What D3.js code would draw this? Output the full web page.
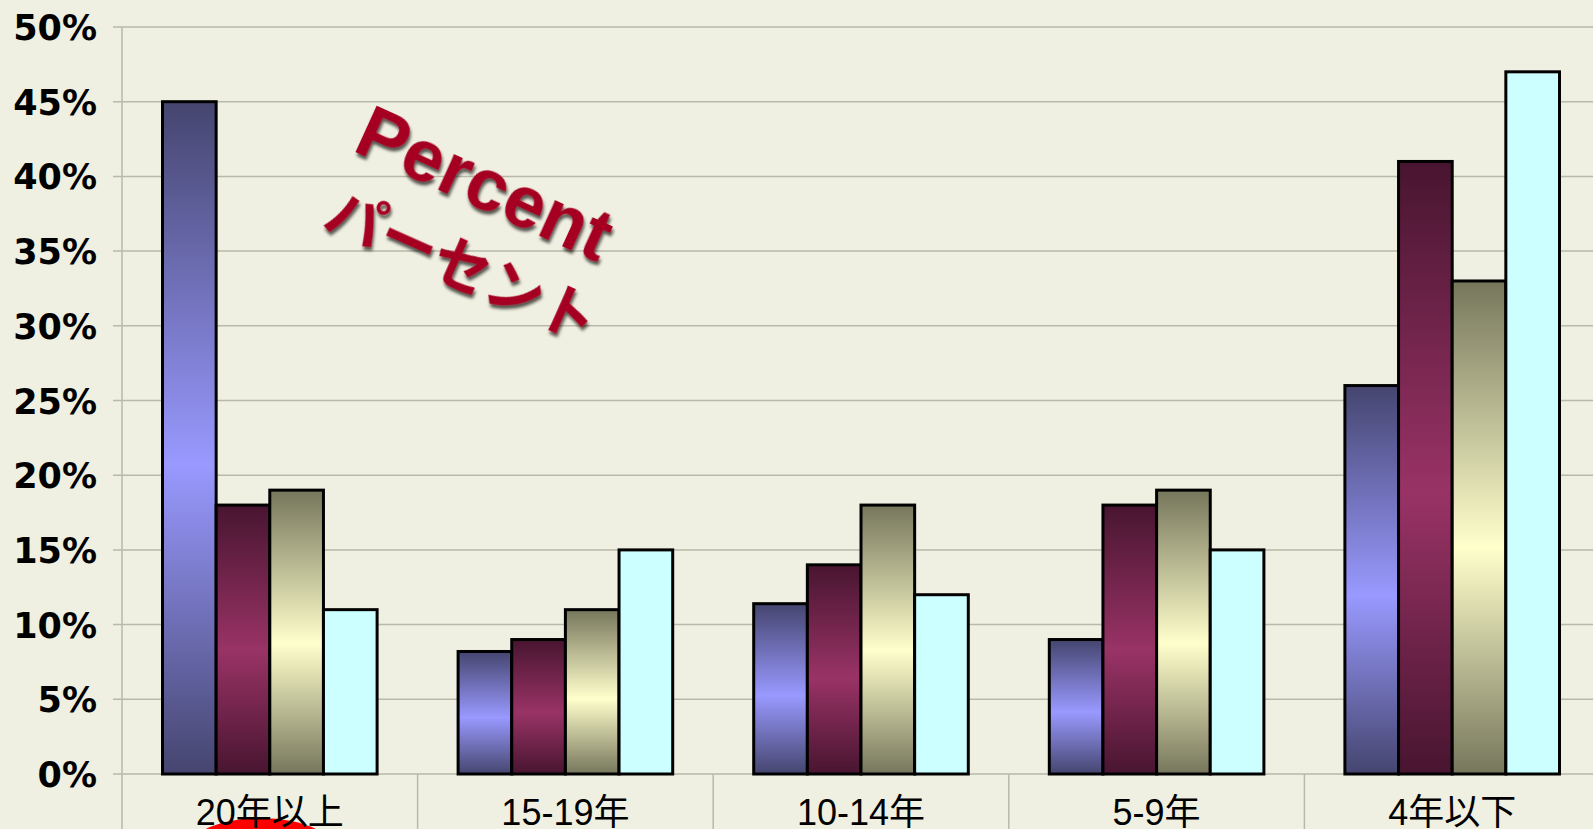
<!DOCTYPE html>
<html><head><meta charset="utf-8">
<script src="https://cdn.jsdelivr.net/npm/d3@7"></script>
<style>
html,body{margin:0;padding:0;background:#eff0e1;overflow:hidden}
svg{display:block}
</style></head>
<body>
<svg id="chart" width="1593" height="829"></svg>
<script>
const categories = ["20年以上", "15-19年", "10-14年", "5-9年", "4年以下"];
const seriesNames = ["系列1", "系列2", "系列3", "系列4"];
const series1 = [45, 8.2, 11.4, 9, 26];
const series2 = [18, 9, 14, 18, 41];
const series3 = [19, 11, 18, 19, 33];
const series4 = [11, 15, 12, 15, 47];
const yTicks = [0, 5, 10, 15, 20, 25, 30, 35, 40, 45, 50];
const tickLabels = yTicks.map(d => d + "%");
const annotationEn = "Percent";
const annotationJa = "パーセント";

const allSeries = [series1, series2, series3, series4];
const W = 1593, H = 829;
const svg = d3.select("#chart");
svg.append("rect").attr("width", W).attr("height", H).attr("fill", "#eff0e1");

const defs = svg.append("defs");
const grads = [
  ["#45456f", "#9999ff"],
  ["#481530", "#993366"],
  ["#76765c", "#ffffcc"],
  ["#ccffff", "#ccffff"]
];
grads.forEach((g, i) => {
  const lg = defs.append("linearGradient").attr("id", "g" + i)
    .attr("x1", 0).attr("y1", 0).attr("x2", 0).attr("y2", 1);
  lg.append("stop").attr("offset", "0%").attr("stop-color", g[0]);
  lg.append("stop").attr("offset", "54%").attr("stop-color", g[1]);
  lg.append("stop").attr("offset", "100%").attr("stop-color", g[0]);
});
const f = defs.append("filter").attr("id", "shadow").attr("x", "-10%").attr("y", "-10%").attr("width", "130%").attr("height", "140%");
f.append("feDropShadow").attr("dx", 2.5).attr("dy", 3).attr("stdDeviation", 1.5)
  .attr("flood-color", "#000").attr("flood-opacity", 0.65);

const x0 = d3.scaleBand().domain(categories).range([122, 1600]).padding(0);
const bw = x0.bandwidth();
const gp = 40.5;
const x1 = d3.scaleBand().domain(seriesNames).range([gp, bw - gp]).padding(0);
const y = d3.scaleLinear().domain([0, 50]).range([774, 27]);

// gridlines
svg.append("g").selectAll("line").data(yTicks).join("line")
  .attr("x1", 113).attr("x2", W)
  .attr("y1", d => y(d)).attr("y2", d => y(d))
  .attr("stroke", "#b9b9a9").attr("stroke-width", 1.5);

// y axis line
svg.append("line").attr("x1", 122).attr("x2", 122).attr("y1", y(50)).attr("y2", H)
  .attr("stroke", "#b9b9a9").attr("stroke-width", 1.5);
// category dividers
svg.append("g").selectAll("line").data(categories.slice(1)).join("line")
  .attr("x1", d => x0(d)).attr("x2", d => x0(d))
  .attr("y1", y(0)).attr("y2", H)
  .attr("stroke", "#b9b9a9").attr("stroke-width", 1.5);

// y tick labels
svg.append("g").selectAll("text").data(yTicks).join("text")
  .attr("x", 97).attr("y", d => y(d) + 13)
  .attr("text-anchor", "end")
  .attr("font-family", "DejaVu Sans, Verdana, sans-serif")
  .attr("font-weight", "bold").attr("font-size", 35)
  .attr("fill", "#000")
  .text((d, i) => tickLabels[i]);

// red ellipse at bottom
svg.append("ellipse").attr("cx", x0(categories[0]) + bw / 2 - 9).attr("cy", 858)
  .attr("rx", 80).attr("ry", 40).attr("fill", "#ff0000");

// bars
const groups = svg.append("g").selectAll("g").data(categories).join("g")
  .attr("transform", d => `translate(${x0(d)},0)`);
groups.selectAll("rect").data((c, ci) => seriesNames.map((s, si) => ({s, si, v: allSeries[si][ci]})))
  .join("rect")
  .attr("x", d => x1(d.s)).attr("width", x1.bandwidth())
  .attr("y", d => y(d.v)).attr("height", d => y(0) - y(d.v))
  .attr("fill", d => `url(#g${d.si})`)
  .attr("stroke", "#000").attr("stroke-width", 3);

// category labels
svg.append("g").selectAll("text").data(categories).join("text")
  .attr("x", d => x0(d) + bw / 2).attr("y", 825)
  .attr("text-anchor", "middle")
  .attr("font-family", "Liberation Sans, Arial, Noto Sans CJK JP, sans-serif")
  .attr("font-size", 36).attr("fill", "#000")
  .text(d => d);

// annotation
svg.append("text")
  .attr("transform", "translate(351,150) rotate(24.5)")
  .attr("font-family", "Liberation Sans, Arial, sans-serif")
  .attr("font-weight", "bold").attr("font-size", 74)
  .attr("fill", "#a50021").attr("filter", "url(#shadow)")
  .text(annotationEn);
svg.append("text")
  .attr("transform", "translate(321,226) rotate(24)")
  .attr("font-family", "Noto Sans CJK JP, sans-serif")
  .attr("font-weight", "bold").attr("font-size", 58)
  .attr("fill", "#a50021").attr("filter", "url(#shadow)")
  .text(annotationJa);
</script>
</body></html>
